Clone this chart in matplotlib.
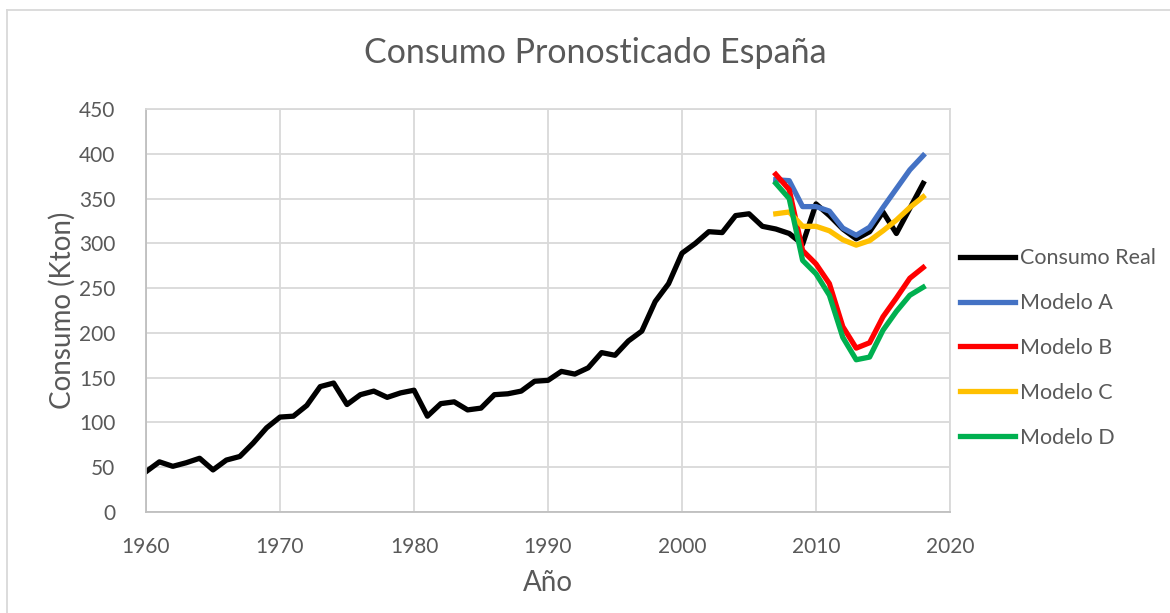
import matplotlib
matplotlib.use("Agg")
import matplotlib.pyplot as plt
from matplotlib.lines import Line2D

plt.rcParams['font.family'] = ['Lato', 'DejaVu Sans']

# consumo real 1960-2018 (kton)
anios_real = list(range(1960, 2019))
consumo_real = [45, 56, 51, 55, 60, 47, 58, 62, 77, 94,
                106, 107, 119, 140, 144, 120, 131, 135, 128, 133,
                136, 107, 121, 123, 114, 116, 131, 132, 135, 146,
                147, 157, 154, 161, 178, 175, 191, 202, 235, 255,
                289, 300, 313, 312, 331, 333, 319, 316, 311, 299,
                344, 331, 316, 305, 313, 335, 311, 339, 367]

# pronosticos 2007-2018
anios_mod = list(range(2007, 2019))
modelo_a = [371, 370, 341, 341, 336, 317, 309, 318, 340, 361, 382, 398]
modelo_b = [377, 360, 292, 277, 255, 207, 183, 189, 218, 239, 261, 273]
modelo_c = [333, 335, 319, 319, 314, 304, 298, 303, 314, 326, 340, 352]
modelo_d = [367, 350, 281, 266, 242, 195, 170, 173, 203, 224, 242, 251]

W, H = 1170, 613
fig = plt.figure(figsize=(W / 100, H / 100), dpi=100)
ax = fig.add_axes([146 / W, 1 - 512 / H, (950 - 146) / W, (512 - 109) / H])

gris = '#595959'
lw = 3.8
ax.plot(anios_real, consumo_real, color='black', lw=lw, label='Consumo Real')
ax.plot(anios_mod, modelo_a, color='#4472C4', lw=lw, label='Modelo A')
ax.plot(anios_mod, modelo_b, color='#FF0000', lw=lw, label='Modelo B')
ax.plot(anios_mod, modelo_c, color='#FFC000', lw=lw, label='Modelo C')
ax.plot(anios_mod, modelo_d, color='#00B050', lw=lw, label='Modelo D')

ax.set_xlim(1960, 2020)
ax.set_ylim(0, 450)
ax.set_xticks(range(1960, 2021, 10))
ax.set_yticks(range(0, 451, 50))
ax.grid(True, color='#D9D9D9', lw=1.3)
ax.set_axisbelow(True)
for s in ['top', 'right']:
    ax.spines[s].set_color('#D9D9D9')
    ax.spines[s].set_linewidth(1.3)
for s in ['left', 'bottom']:
    ax.spines[s].set_color('#BFBFBF')
    ax.spines[s].set_linewidth(1.3)
ax.tick_params(length=0, labelsize=15, labelcolor=gris)
ax.tick_params(axis='y', pad=22)
ax.tick_params(axis='x', pad=18)

fig.text(595 / W, 1 - 53 / H, 'Consumo Pronosticado España', ha='center', va='center',
         fontsize=24.5, color=gris)
fig.text(62 / W, 1 - 310 / H, 'Consumo (Kton)', ha='center', va='center', rotation=90,
         fontsize=20, color=gris)
fig.text(548 / W, 1 - 583 / H, 'Año', ha='center', va='center', fontsize=20, color=gris)

leg = ax.legend(loc='center left', bbox_to_anchor=(960 / W, 1 - 348 / H),
                bbox_transform=fig.transFigure, frameon=False, fontsize=15.5,
                handlelength=2.55, handletextpad=0.25, labelspacing=1.15,
                borderpad=0, borderaxespad=0)
for t in leg.get_texts():
    t.set_color(gris)

# borde del area del grafico
fig.add_artist(Line2D([7 / W, 7 / W], [0, 1 - 10 / H], color='#D9D9D9', lw=1.3))
fig.add_artist(Line2D([7 / W, 1], [1 - 10 / H, 1 - 10 / H], color='#D9D9D9', lw=1.3))

fig.savefig('out.png', dpi=100)
